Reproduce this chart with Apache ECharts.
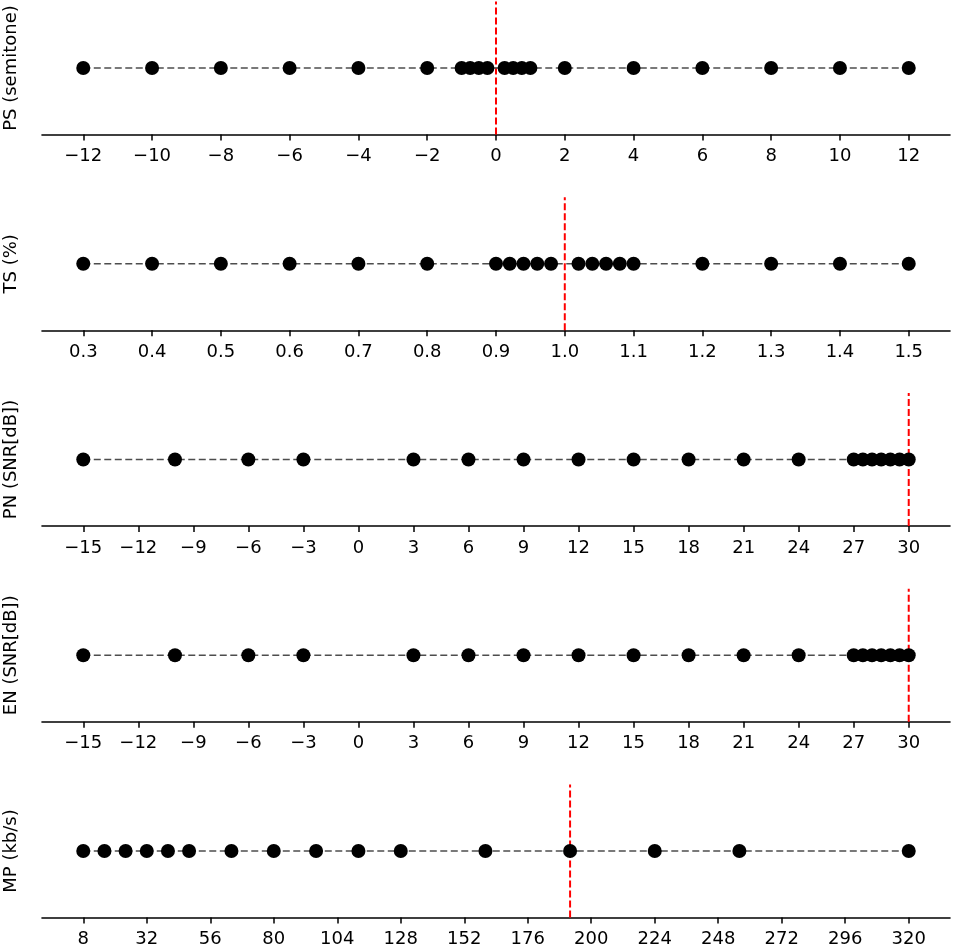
<!DOCTYPE html>
<html>
<head>
<meta charset="utf-8">
<script src="https://cdn.jsdelivr.net/npm/echarts@6/dist/echarts.min.js"></script>
<style>
html,body{margin:0;padding:0;background:#fff;}
#chart{width:953px;height:949px;}
</style>
</head>
<body>
<div id="chart"></div>
<script>
// ---- data ----
const panelNames = ['PS (semitone)', 'TS (%)', 'PN (SNR[dB])', 'EN (SNR[dB])', 'MP (kb/s)'];

const psValues = [-12, -10, -8, -6, -4, -2, -1, -0.75, -0.5, -0.25, 0.25, 0.5, 0.75, 1, 2, 4, 6, 8, 10, 12];
const tsValues = [0.3, 0.4, 0.5, 0.6, 0.7, 0.8, 0.9, 0.92, 0.94, 0.96, 0.98, 1.02, 1.04, 1.06, 1.08, 1.1, 1.2, 1.3, 1.4, 1.5];
const pnValues = [-15, -10, -6, -3, 3, 6, 9, 12, 15, 18, 21, 24, 27, 27.5, 28, 28.5, 29, 29.5, 30];
const enValues = [-15, -10, -6, -3, 3, 6, 9, 12, 15, 18, 21, 24, 27, 27.5, 28, 28.5, 29, 29.5, 30];
const mpValues = [8, 16, 24, 32, 40, 48, 64, 80, 96, 112, 128, 160, 192, 224, 256, 320];

const refValues = [0, 1.0, 30, 30, 192];

const psTicks = [-12, -10, -8, -6, -4, -2, 0, 2, 4, 6, 8, 10, 12];
const tsTicks = [0.3, 0.4, 0.5, 0.6, 0.7, 0.8, 0.9, 1.0, 1.1, 1.2, 1.3, 1.4, 1.5];
const pnTicks = [-15, -12, -9, -6, -3, 0, 3, 6, 9, 12, 15, 18, 21, 24, 27, 30];
const enTicks = [-15, -12, -9, -6, -3, 0, 3, 6, 9, 12, 15, 18, 21, 24, 27, 30];
const mpTicks = [8, 32, 56, 80, 104, 128, 152, 176, 200, 224, 248, 272, 296, 320];

const tickDecimals = [0, 1, 0, 0, 0];

// ---- build ----
const allValues = [psValues, tsValues, pnValues, enValues, mpValues];
const allTicks = [psTicks, tsTicks, pnTicks, enTicks, mpTicks];

const FONT = 'DejaVu Sans';
const grids = [], xAxes = [], yAxes = [], series = [];
const PANEL_STEP = 195.75, PANEL_H = 133, TOP0 = 1.5;

for (let i = 0; i < 5; i++) {
  const vals = allValues[i];
  const lo = Math.min(...vals), hi = Math.max(...vals);
  const pad = (hi - lo) * 0.05;
  grids.push({ left: 42, width: 908, top: TOP0 + PANEL_STEP * i, height: PANEL_H,
               containLabel: false, outerBoundsMode: 'none' });
  const dec = tickDecimals[i];
  xAxes.push({
    type: 'value', gridIndex: i, min: lo - pad, max: hi + pad,
    axisLine: { show: true, onZero: false, lineStyle: { color: '#000', width: 1.6 } },
    axisTick: { show: true, length: 6, lineStyle: { color: '#000', width: 1.5 }, customValues: allTicks[i] },
    axisLabel: {
      show: true, margin: 13, fontFamily: FONT, fontSize: 18, color: '#000', lineHeight: 18,
      customValues: allTicks[i],
      formatter: v => v.toFixed(dec).replace('-', '\u2212')
    },
    splitLine: { show: false }
  });
  yAxes.push({
    type: 'value', gridIndex: i, min: -1, max: 1,
    name: panelNames[i], nameLocation: 'middle', nameGap: 22, nameRotate: 90,
    nameTextStyle: { fontFamily: FONT, fontSize: 18, color: '#000' },
    axisLine: { show: false }, axisTick: { show: false }, axisLabel: { show: false },
    splitLine: { show: false }
  });
  // reference red dashed line
  series.push({
    type: 'line', xAxisIndex: i, yAxisIndex: i, z: 1, silent: true,
    showSymbol: false, symbol: 'none',
    data: [[refValues[i], -1], [refValues[i], 1]],
    lineStyle: { color: '#ff0000', width: 2, type: [7, 3] }
  });
  // points with dashed connecting line
  series.push({
    type: 'line', xAxisIndex: i, yAxisIndex: i, z: 3, silent: true,
    data: vals.map(v => [v, 0]),
    symbol: 'circle', symbolSize: 14, showAllSymbol: true,
    itemStyle: { color: '#000' },
    lineStyle: { color: '#4d4d4d', width: 1.5, type: [7, 3.5] }
  });
}

const chart = echarts.init(document.getElementById('chart'), null, { renderer: 'canvas' });
chart.setOption({
  animation: false,
  backgroundColor: '#fff',
  grid: grids, xAxis: xAxes, yAxis: yAxes, series: series
});
</script>
</body>
</html>
